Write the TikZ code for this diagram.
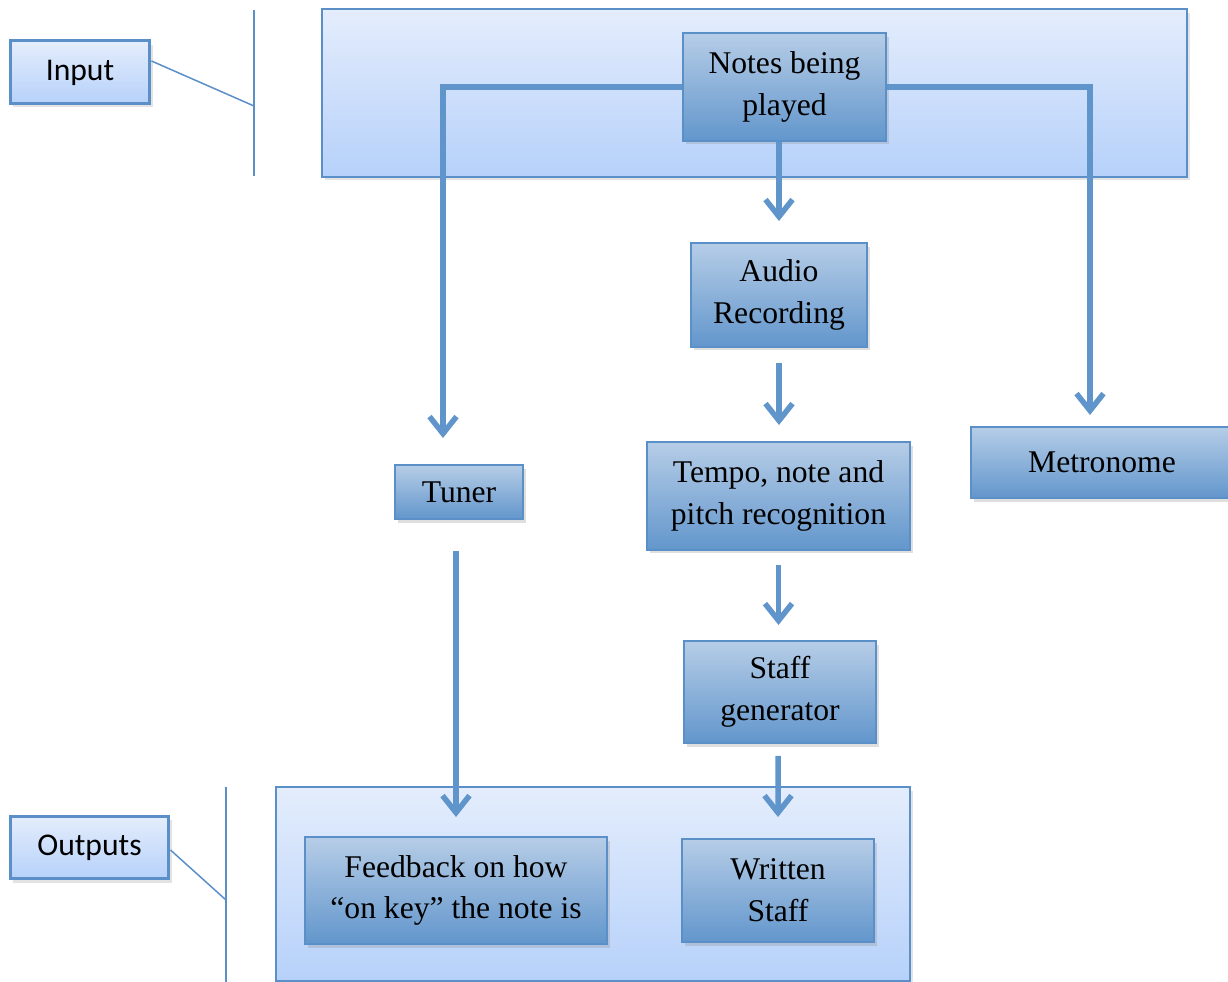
\documentclass[tikz,border=0pt]{standalone}
\usepackage{fontspec}
\setmainfont{Liberation Serif}
\newfontfamily\tagfont{Carlito}
\definecolor{edge}{HTML}{5B8FC8}
\definecolor{flowc}{HTML}{5F95CB}
\definecolor{boxtop}{HTML}{B6CDE7}
\definecolor{boxbot}{HTML}{6296CC}
\definecolor{frametop}{HTML}{E4EDFC}
\definecolor{framebot}{HTML}{B6D1FA}
\usetikzlibrary{positioning, arrows.meta, shadows}

\begin{document}
\begin{tikzpicture}[x=0.02cm, y=-0.02cm,
                    every node/.style = {text=black, inner sep=0pt},
                    box/.style = {draw=edge, line width=0.04cm, top color=boxtop, bottom color=boxbot,
                                  align=center, font=\fontsize{18}{23.8}\selectfont,
                                  drop shadow={shadow xshift=1.5pt, shadow yshift=-2pt, opacity=0.25}},
                    frame/.style = {draw=edge, line width=0.04cm, top color=frametop, bottom color=framebot,
                                  drop shadow={shadow xshift=1.5pt, shadow yshift=-2pt, opacity=0.22}},
                    tag/.style = {draw=edge, line width=0.06cm, top color=frametop, bottom color=framebot,
                                  font=\tagfont\fontsize{18}{22}\selectfont,
                                  drop shadow={shadow xshift=1.5pt, shadow yshift=-2pt, opacity=0.22}},
                    flow/.style = {draw=flowc, line width=0.11cm, -{Straight Barb[length=0.34cm, width=0.54cm]}},
                    brace/.style = {draw=edge, line width=0.03cm}]
                \useasboundingbox (0,0) rectangle (1228,982);
                \node (inframe)  [frame, minimum width=17.3cm, minimum height=3.36cm] at (754.5,93) {};
                \node (outframe) [frame, minimum width=12.68cm, minimum height=3.88cm] at (593,884) {};
                \node (notes) [box, minimum width=4.06cm, minimum height=2.16cm] at (784.5,87)  {Notes being\\played};
                \node (audio) [box, minimum width=3.52cm, minimum height=2.08cm] at (779,295)   {Audio\\Recording};
                \node (tempo) [box, minimum width=5.26cm, minimum height=2.16cm] at (778.5,496) {Tempo, note and\\pitch recognition};
                \node (metro) [box, minimum width=5.24cm, minimum height=1.42cm] at (1102,462.5) {Metronome};
                \node (tuner) [box, minimum width=2.56cm, minimum height=1.08cm] at (459,492)   {Tuner};
                \node (staff) [box, minimum width=3.84cm, minimum height=2.04cm] at (780,692)   {Staff\\generator};
                \node (feed)  [box, minimum width=6.04cm, minimum height=2.14cm] at (456,890.5) {Feedback on how\\“on key” the note is};
                \node (wrote) [box, minimum width=3.84cm, minimum height=2.06cm] at (778,890.5) {Written\\Staff};
                \node (intag)  [tag, minimum width=2.8cm,  minimum height=1.26cm] at (80,72.5)   {Input};
                \node (outtag) [tag, minimum width=3.18cm, minimum height=1.26cm] at (89.5,847.5) {Outputs};
                \coordinate (inbar) at (254,106);
                \coordinate (outbar) at (226,900);
                \coordinate (tunerin) at (443,438);
                \coordinate (metroin) at (1090,415);
                \draw[brace] (254,10) -- (254,176);
                \draw[brace] (226,787) -- (226,982);
                \draw[brace] ([yshift=0.23cm]intag.east) -- (inbar);
                \draw[brace] ([yshift=-0.05cm]outtag.east) -- (outbar);
                \draw[flow] (notes.west) -| (tunerin);
                \draw[flow] (notes.east) -| (metroin);
                \draw[flow] (notes.south -| audio.north) -- ([yshift=0.42cm]audio.north);
                \draw[flow] ([yshift=-0.3cm]audio.south) -- ([yshift=0.32cm]tempo.north -| audio.south);
                \draw[flow] ([yshift=-0.28cm]tempo.south) -- ([yshift=0.3cm]staff.north -| tempo.south);
                \draw[flow] ([xshift=-0.04cm, yshift=-0.24cm]staff.south) -- ([yshift=0.42cm]wrote.north);
                \draw[flow] ([yshift=-0.62cm]tuner.south -| feed.north) -- ([yshift=0.38cm]feed.north);
            \end{tikzpicture}
\end{document}
